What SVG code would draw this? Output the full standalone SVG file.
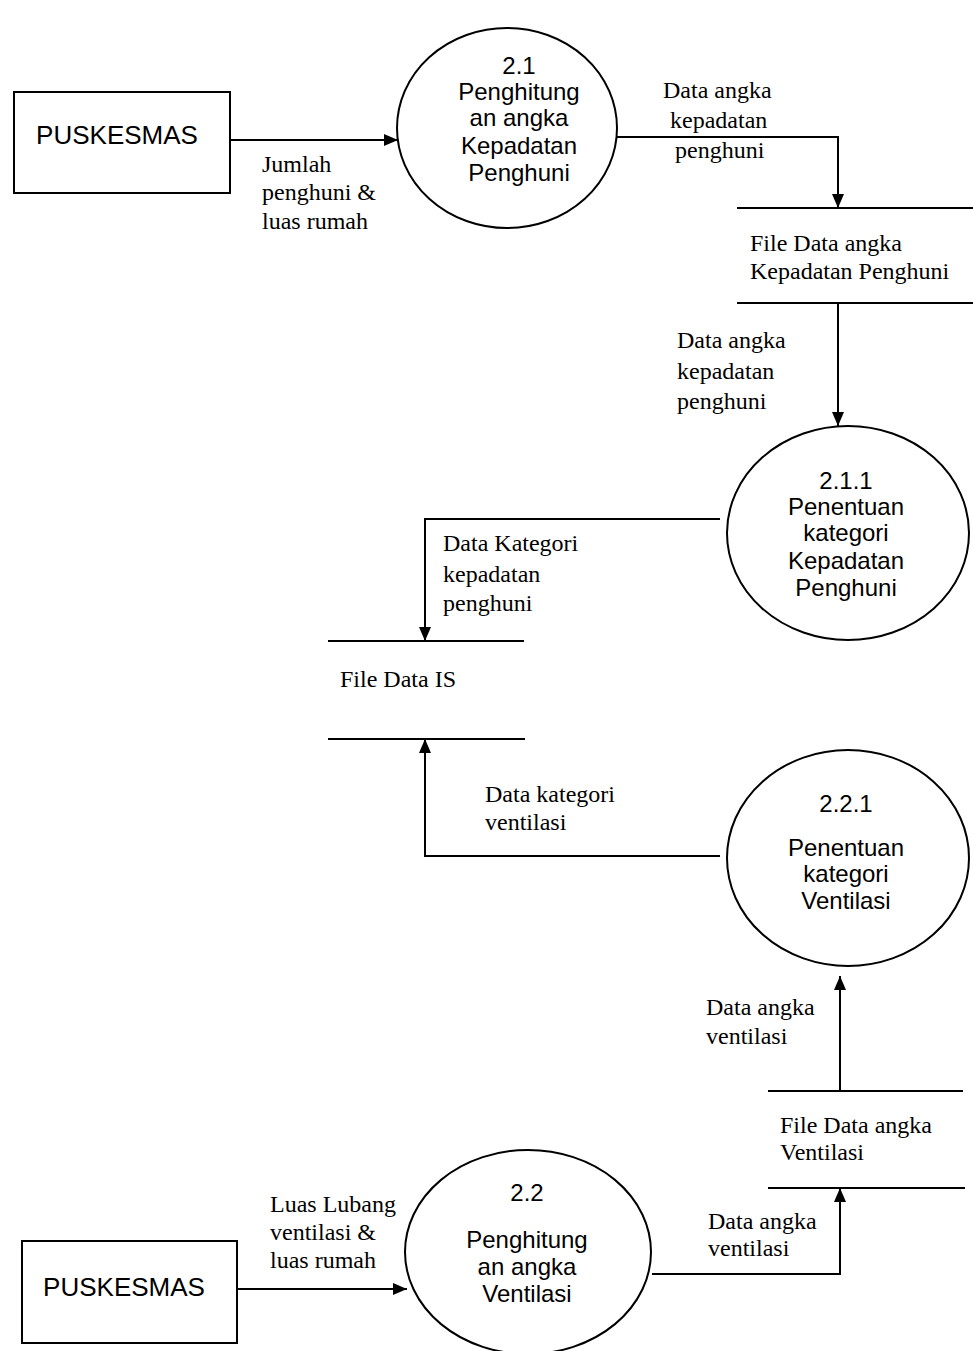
<svg xmlns="http://www.w3.org/2000/svg" width="973" height="1351" viewBox="0 0 973 1351">
  <style>
    .shape { fill: none; stroke: #000; stroke-width: 2; }
    .flow { fill: none; stroke: #000; stroke-width: 2; }
    .store { stroke: #000; stroke-width: 2; }
    .pt { font-family: "Liberation Sans", Arial, sans-serif; font-size: 24px; fill: #000; text-anchor: middle; }
    .ent { font-family: "Liberation Sans", Arial, sans-serif; font-size: 26px; fill: #000; text-anchor: middle; }
    .lbl { font-family: "Liberation Serif", "Times New Roman", serif; font-size: 24px; fill: #000; }
  </style>
  <defs>
    <marker id="arrow" viewBox="0 0 14 12" refX="14" refY="6" markerWidth="14" markerHeight="12" markerUnits="userSpaceOnUse" orient="auto">
      <path d="M0,0 L14,6 L0,12 Z" fill="#000"/>
    </marker>
  </defs>
  <rect width="973" height="1351" fill="#fff"/>

  <!-- external entity: PUSKESMAS (top) -->
  <g id="puskesmas-1">
    <rect class="shape" x="14" y="92" width="216" height="101"/>
    <text class="ent" x="117" y="144">PUSKESMAS</text>
  </g>

  <!-- process 2.1 -->
  <g id="proc-2-1">
    <ellipse class="shape" cx="507" cy="128" rx="110" ry="100"/>
    <text class="pt" x="519" y="74">2.1</text>
    <text class="pt" x="519" y="100">Penghitung</text>
    <text class="pt" x="519" y="126">an angka</text>
    <text class="pt" x="519" y="154">Kepadatan</text>
    <text class="pt" x="519" y="181">Penghuni</text>
  </g>

  <!-- data store: File Data angka Kepadatan Penghuni -->
  <g id="store-kepadatan">
    <line class="store" x1="737" y1="208" x2="973" y2="208"/>
    <line class="store" x1="737" y1="303" x2="973" y2="303"/>
    <text class="lbl" x="750" y="251" font-size="23">File Data angka</text>
    <text class="lbl" x="750" y="279" font-size="23">Kepadatan Penghuni</text>
  </g>

  <!-- process 2.1.1 -->
  <g id="proc-2-1-1">
    <ellipse class="shape" cx="848" cy="533" rx="121" ry="107"/>
    <text class="pt" x="846" y="489">2.1.1</text>
    <text class="pt" x="846" y="515">Penentuan</text>
    <text class="pt" x="846" y="541">kategori</text>
    <text class="pt" x="846" y="569">Kepadatan</text>
    <text class="pt" x="846" y="596">Penghuni</text>
  </g>

  <!-- data store: File Data IS -->
  <g id="store-is">
    <line class="store" x1="328" y1="641" x2="524" y2="641"/>
    <line class="store" x1="328" y1="739" x2="525" y2="739"/>
    <text class="lbl" x="340" y="687" font-size="23">File Data IS</text>
  </g>

  <!-- process 2.2.1 -->
  <g id="proc-2-2-1">
    <ellipse class="shape" cx="848" cy="858" rx="121" ry="108"/>
    <text class="pt" x="846" y="812">2.2.1</text>
    <text class="pt" x="846" y="856">Penentuan</text>
    <text class="pt" x="846" y="882">kategori</text>
    <text class="pt" x="846" y="909">Ventilasi</text>
  </g>

  <!-- data store: File Data angka Ventilasi -->
  <g id="store-ventilasi">
    <line class="store" x1="768" y1="1091" x2="963" y2="1091"/>
    <line class="store" x1="768" y1="1188" x2="965" y2="1188"/>
    <text class="lbl" x="780" y="1133" font-size="23">File Data angka</text>
    <text class="lbl" x="780" y="1160" font-size="23">Ventilasi</text>
  </g>

  <!-- process 2.2 -->
  <g id="proc-2-2">
    <ellipse class="shape" cx="528" cy="1252" rx="123" ry="102"/>
    <text class="pt" x="527" y="1201">2.2</text>
    <text class="pt" x="527" y="1248">Penghitung</text>
    <text class="pt" x="527" y="1275">an angka</text>
    <text class="pt" x="527" y="1302">Ventilasi</text>
  </g>

  <!-- external entity: PUSKESMAS (bottom) -->
  <g id="puskesmas-2">
    <rect class="shape" x="22" y="1241" width="215" height="102"/>
    <text class="ent" x="124" y="1296">PUSKESMAS</text>
  </g>

  <!-- data flows -->
  <g id="flows">
    <line class="flow" x1="230" y1="140" x2="398" y2="140" marker-end="url(#arrow)"/>
    <polyline class="flow" points="617,137 838,137 838,208" marker-end="url(#arrow)"/>
    <line class="flow" x1="838" y1="303" x2="838" y2="426" marker-end="url(#arrow)"/>
    <polyline class="flow" points="720,519 425,519 425,641" marker-end="url(#arrow)"/>
    <polyline class="flow" points="720,856 425,856 425,739" marker-end="url(#arrow)"/>
    <line class="flow" x1="840" y1="1091" x2="840" y2="976" marker-end="url(#arrow)"/>
    <polyline class="flow" points="652,1274 840,1274 840,1188" marker-end="url(#arrow)"/>
    <line class="flow" x1="237" y1="1289" x2="407" y2="1289" marker-end="url(#arrow)"/>

    <text class="lbl" x="262" y="172">Jumlah</text>
    <text class="lbl" x="262" y="200">penghuni &amp;</text>
    <text class="lbl" x="262" y="229">luas rumah</text>

    <text class="lbl" x="663" y="98" font-size="26">Data angka</text>
    <text class="lbl" x="670" y="128" font-size="26">kepadatan</text>
    <text class="lbl" x="675" y="158" font-size="26">penghuni</text>

    <text class="lbl" x="677" y="348" font-size="26">Data angka</text>
    <text class="lbl" x="677" y="379" font-size="26">kepadatan</text>
    <text class="lbl" x="677" y="409" font-size="26">penghuni</text>

    <text class="lbl" x="443" y="551" font-size="26">Data Kategori</text>
    <text class="lbl" x="443" y="582" font-size="26">kepadatan</text>
    <text class="lbl" x="443" y="611" font-size="26">penghuni</text>

    <text class="lbl" x="485" y="802" font-size="23">Data kategori</text>
    <text class="lbl" x="485" y="830" font-size="23">ventilasi</text>

    <text class="lbl" x="706" y="1015" font-size="23">Data angka</text>
    <text class="lbl" x="706" y="1044" font-size="23">ventilasi</text>

    <text class="lbl" x="708" y="1229" font-size="23">Data angka</text>
    <text class="lbl" x="708" y="1256" font-size="23">ventilasi</text>

    <text class="lbl" x="270" y="1212">Luas Lubang</text>
    <text class="lbl" x="270" y="1240">ventilasi &amp;</text>
    <text class="lbl" x="270" y="1268">luas rumah</text>
  </g>
</svg>
